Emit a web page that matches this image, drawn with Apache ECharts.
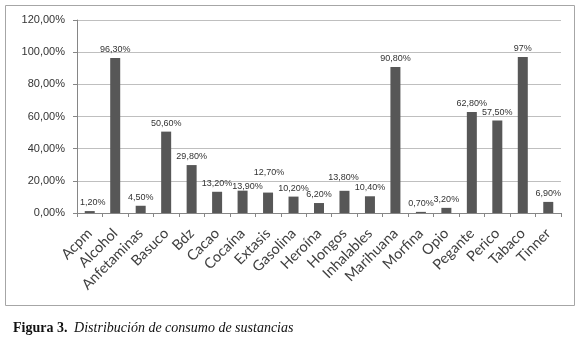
<!DOCTYPE html>
<html>
<head>
<meta charset="utf-8">
<script src="https://cdn.jsdelivr.net/npm/echarts@6/dist/echarts.min.js"></script>
<style>
  html, body { margin: 0; padding: 0; background: #fff; }
  #chart { width: 580px; height: 345px; }
</style>
</head>
<body>
<div id="chart"></div>
<script>
// Sustancias y porcentaje de consumo
const categories = [
  'Acpm', 'Alcohol', 'Anfetaminas', 'Basuco', 'Bdz', 'Cacao', 'Cocaína',
  'Extasis', 'Gasolina', 'Heroína', 'Hongos', 'Inhalables', 'Marihuana',
  'Morfina', 'Opio', 'Pegante', 'Perico', 'Tabaco', 'Tinner'
];
const values = [1.2, 96.3, 4.5, 50.6, 29.8, 13.2, 13.9, 12.7, 10.2, 6.2, 13.8, 10.4, 90.8, 0.7, 3.2, 62.8, 57.5, 97, 6.9];
const valueLabels = [
  '1,20%', '96,30%', '4,50%', '50,60%', '29,80%', '13,20%', '13,90%',
  '12,70%', '10,20%', '6,20%', '13,80%', '10,40%', '90,80%',
  '0,70%', '3,20%', '62,80%', '57,50%', '97%', '6,90%'
];
const yTicks = [0, 20, 40, 60, 80, 100, 120];

// a few labels sit off-centre in the original
const labelOffsets = { 0: [3, 0], 6: [5, 4], 7: [1, -12], 10: [-1, -5] };

const chart = echarts.init(document.getElementById('chart'));

const seriesData = values.map((v, i) => {
  const item = { value: v };
  if (labelOffsets[i]) item.label = { offset: labelOffsets[i] };
  return item;
});

const option = {
  animation: false,
  grid: { left: 77, right: 19, top: 20, bottom: 132 },
  xAxis: {
    type: 'category',
    data: categories,
    boundaryGap: true,
    axisLine: { lineStyle: { color: '#868686' } },
    axisTick: { show: true, length: 4, lineStyle: { color: '#868686' } },
    axisLabel: {
      interval: 0,
      rotate: 45,
      margin: 18,
      fontFamily: 'Lato',
      fontSize: 14.5,
      color: '#404040'
    }
  },
  yAxis: {
    type: 'value',
    min: yTicks[0],
    max: yTicks[yTicks.length - 1],
    interval: 20,
    axisLine: { show: true, lineStyle: { color: '#868686' } },
    axisTick: { show: true, length: 4, lineStyle: { color: '#868686' } },
    splitLine: { lineStyle: { color: '#bfbfbf' } },
    axisLabel: {
      margin: 12,
      fontFamily: 'Liberation Sans',
      fontSize: 11,
      color: '#333',
      formatter: (v) => v.toFixed(2).replace('.', ',') + '%'
    }
  },
  series: [
    {
      type: 'bar',
      data: seriesData,
      barWidth: 10,
      itemStyle: { color: '#575757' },
      label: {
        show: true,
        position: 'top',
        distance: 4,
        fontFamily: 'Liberation Sans',
        fontSize: 9,
        color: '#333',
        formatter: (p) => valueLabels[p.dataIndex]
      }
    }
  ],
  graphic: [
    {
      type: 'rect',
      shape: { x: 5.5, y: 5.5, width: 569, height: 300 },
      style: { fill: null, stroke: '#a6a6a6', lineWidth: 1 },
      silent: true
    },
    {
      type: 'text',
      left: 13,
      top: 321,
      style: {
        text: '{b|Figura 3.}  {i|Distribución de consumo de sustancias}',
        rich: {
          b: { fontFamily: 'Liberation Serif', fontWeight: 'bold', fontSize: 14, fill: '#111' },
          i: { fontFamily: 'Liberation Serif', fontStyle: 'italic', fontSize: 14, fill: '#111' }
        }
      }
    }
  ]
};

chart.setOption(option);
window.addEventListener('resize', () => chart.resize());
</script>
</body>
</html>
